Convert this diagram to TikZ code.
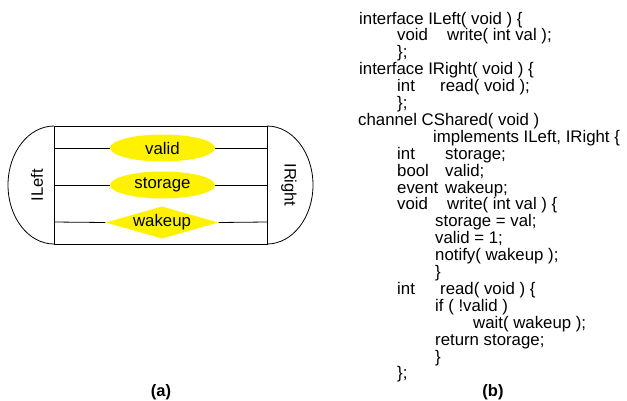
\documentclass[tikz,border=0pt]{standalone}
\usepackage{fontspec}
\setmainfont{Liberation Sans}
\usetikzlibrary{shapes.geometric}
\begin{document}
\begin{tikzpicture}[x=1pt,y=-1pt,
  code/.style={anchor=base west, inner sep=0pt, font=\fontsize{16.8}{17}\selectfont},
  lbl/.style={inner sep=0pt, font=\fontsize{16.5}{18}\selectfont},
  var/.style={ellipse, fill=yellow, minimum width=105pt, minimum height=27pt, inner sep=0pt, font=\fontsize{16.8}{18}\selectfont},
  evt/.style={diamond, fill=yellow, minimum width=110pt, minimum height=31pt, inner sep=0pt, aspect=3.5, font=\fontsize{16.8}{18}\selectfont},
  captext/.style={inner sep=0pt, font=\fontsize{16.5}{18}\selectfont\bfseries},
  wire/.style={draw=black, line width=0.8pt}]
\useasboundingbox (0,0) rectangle (627,400);
% channel body
\draw[wire] (54,126) rectangle (267,244);
\draw[wire] (54,126) arc[start angle=270, end angle=90, x radius=46, y radius=59];
\draw[wire] (267,126) arc[start angle=270, end angle=450, x radius=46, y radius=59];
\node[lbl, rotate=90] (ileft) at (37,185) {ILeft};
\node[lbl, rotate=-90] (iright) at (289,185) {IRight};
\coordinate (l1) at (54,148); \coordinate (r1) at (267,148);
\coordinate (l2) at (54,185); \coordinate (r2) at (267,185);
\coordinate (l3) at (54,222); \coordinate (r3) at (267,222);
\node[var] (valid) at (162.5,148) {valid};
\node[var] (storage) at (162.5,185) {storage};
\node[evt] (wakeup) at (162,222.5) {wakeup};
\draw[wire] (l1) -- (valid.west); \draw[wire] (valid.east) -- (r1);
\draw[wire] (l2) -- (storage.west); \draw[wire] (storage.east) -- (r2);
\draw[wire] (l3) -- (wakeup.west); \draw[wire] (wakeup.east) -- (r3);
\node[captext] (capa) at (161,392) {(a)};
\node[captext] (capb) at (493,392) {(b)};
% code
\def\by{24}\def\ls{16.9}
\node[code] (c1) at (359,{\by+0*\ls}) {interface ILeft( void ) \{};
\node[code] (c2a) at (397,{\by+1*\ls}) {void};
\node[code] (c2b) at (447,{\by+1*\ls}) {write( int val );};
\node[code] (c3) at (397,{\by+2*\ls}) {\};};
\node[code] (c4) at (359,{\by+3*\ls}) {interface IRight( void ) \{};
\node[code] (c5a) at (397,{\by+4*\ls}) {int};
\node[code] (c5b) at (440,{\by+4*\ls}) {read( void );};
\node[code] (c6) at (397,{\by+5*\ls}) {\};};
\node[code] (c7) at (358,{\by+6*\ls}) {channel CShared( void )};
\node[code] (c8) at (433,{\by+7*\ls}) {implements ILeft, IRight \{};
\node[code] (c9a) at (397,{\by+8*\ls}) {int};
\node[code] (c9b) at (445,{\by+8*\ls}) {storage;};
\node[code] (c10a) at (397,{\by+9*\ls}) {bool};
\node[code] (c10b) at (445,{\by+9*\ls}) {valid;};
\node[code] (c11a) at (397,{\by+10*\ls}) {event};
\node[code] (c11b) at (445,{\by+10*\ls}) {wakeup;};
\node[code] (c12a) at (397,{\by+11*\ls}) {void};
\node[code] (c12b) at (447,{\by+11*\ls}) {write( int val ) \{};
\node[code] (c13) at (435,{\by+12*\ls}) {storage = val;};
\node[code] (c14) at (435,{\by+13*\ls}) {valid = 1;};
\node[code] (c15) at (435,{\by+14*\ls}) {notify( wakeup );};
\node[code] (c16) at (435,{\by+15*\ls}) {\}};
\node[code] (c17a) at (397,{\by+16*\ls}) {int};
\node[code] (c17b) at (440,{\by+16*\ls}) {read( void ) \{};
\node[code] (c18) at (435,{\by+17*\ls}) {if ( !valid )};
\node[code] (c19) at (473,{\by+18*\ls}) {wait( wakeup );};
\node[code] (c20) at (435,{\by+19*\ls}) {return storage;};
\node[code] (c21) at (435,{\by+20*\ls}) {\}};
\node[code] (c22) at (397,{\by+21*\ls}) {\};};
\end{tikzpicture}
\end{document}
